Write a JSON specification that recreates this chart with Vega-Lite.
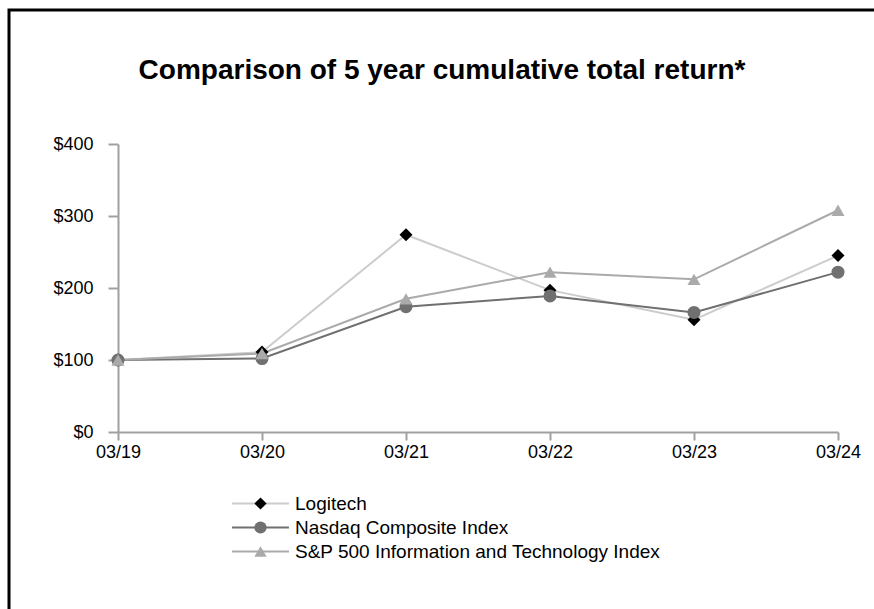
{
  "$schema": "https://vega.github.io/schema/vega-lite/v6.json",
  "width": 870,
  "height": 605,
  "autosize": {"type": "none"},
  "padding": {"left": 9, "top": 10, "right": -5, "bottom": -6},
  "background": "white",
  "config": {
    "view": {"stroke": "#000000", "strokeWidth": 3},
    "font": "Liberation Sans"
  },
  "title": {
    "text": "Comparison of 5 year cumulative total return*",
    "anchor": "middle",
    "frame": "group",
    "orient": "top",
    "offset": 0,
    "dy": 75,
    "dx": -2,
    "font": "Liberation Sans",
    "fontSize": 28,
    "fontWeight": "bold",
    "color": "#000000"
  },
  "data": {
    "values": [
      {"date": "03/19", "series": "Logitech", "value": 100},
      {"date": "03/20", "series": "Logitech", "value": 111},
      {"date": "03/21", "series": "Logitech", "value": 274},
      {"date": "03/22", "series": "Logitech", "value": 197},
      {"date": "03/23", "series": "Logitech", "value": 156},
      {"date": "03/24", "series": "Logitech", "value": 245},
      {"date": "03/19", "series": "Nasdaq Composite Index", "value": 100},
      {"date": "03/20", "series": "Nasdaq Composite Index", "value": 102},
      {"date": "03/21", "series": "Nasdaq Composite Index", "value": 174},
      {"date": "03/22", "series": "Nasdaq Composite Index", "value": 189},
      {"date": "03/23", "series": "Nasdaq Composite Index", "value": 166},
      {"date": "03/24", "series": "Nasdaq Composite Index", "value": 222},
      {"date": "03/19", "series": "S&P 500 Information and Technology Index", "value": 100},
      {"date": "03/20", "series": "S&P 500 Information and Technology Index", "value": 109},
      {"date": "03/21", "series": "S&P 500 Information and Technology Index", "value": 185},
      {"date": "03/22", "series": "S&P 500 Information and Technology Index", "value": 222},
      {"date": "03/23", "series": "S&P 500 Information and Technology Index", "value": 212},
      {"date": "03/24", "series": "S&P 500 Information and Technology Index", "value": 308}
    ]
  },
  "encoding": {
    "x": {
      "field": "date",
      "type": "ordinal",
      "sort": null,
      "scale": {"type": "point", "range": [109, 829], "padding": 0},
      "axis": {
        "orient": "bottom",
        "offset": -183,
        "title": null,
        "labelAngle": 0,
        "grid": false,
        "domainColor": "#a0a0a0",
        "domainWidth": 2,
        "tickColor": "#a0a0a0",
        "tickWidth": 2,
        "tickSize": 8,
        "labelPadding": 3,
        "labelFontSize": 18,
        "labelColor": "#000000",
        "labelFont": "Liberation Sans"
      }
    },
    "y": {
      "field": "value",
      "type": "quantitative",
      "scale": {"domain": [0, 400], "range": [422, 134], "nice": false, "zero": true},
      "axis": {
        "orient": "left",
        "offset": -109,
        "title": null,
        "values": [0, 100, 200, 300, 400],
        "format": "$,.0f",
        "grid": false,
        "domainColor": "#a0a0a0",
        "domainWidth": 2,
        "tickColor": "#a0a0a0",
        "tickWidth": 2,
        "tickSize": 10,
        "labelPadding": 15,
        "labelFontSize": 18,
        "labelColor": "#000000",
        "labelFont": "Liberation Sans"
      }
    }
  },
  "layer": [
    {
      "mark": {"type": "line", "strokeWidth": 2},
      "encoding": {
        "stroke": {
          "field": "series",
          "type": "nominal",
          "scale": {
            "domain": ["Logitech", "Nasdaq Composite Index", "S&P 500 Information and Technology Index"],
            "range": ["#cccccc", "#707070", "#aaaaaa"]
          },
          "legend": {
            "orient": "none",
            "legendX": 242,
            "legendY": 484,
            "title": null,
            "padding": 0,
            "symbolType": "M-4.5,0L4.5,0",
            "symbolSize": 160,
            "symbolStrokeWidth": 2,
            "labelFontSize": 19,
            "labelFont": "Liberation Sans",
            "labelOpacity": 0,
            "labelOffset": 25,
            "rowPadding": 4,
            "labelLimit": 600
          }
        }
      }
    },
    {
      "mark": {"type": "point", "filled": true, "size": 170, "opacity": 1, "strokeWidth": 0},
      "encoding": {
        "fill": {
          "field": "series",
          "type": "nominal",
          "scale": {"range": ["#000000", "#707070", "#aaaaaa"]},
          "legend": {
            "orient": "none",
            "legendX": 242,
            "legendY": 484,
            "title": null,
            "padding": 0,
            "symbolSize": 150,
            "symbolStrokeWidth": 0,
            "labelFontSize": 19,
            "labelFont": "Liberation Sans",
            "labelColor": "#000000",
            "labelOffset": 25,
            "rowPadding": 4,
            "labelLimit": 600
          }
        },
        "shape": {
          "field": "series",
          "type": "nominal",
          "scale": {"range": ["diamond", "circle", "triangle-up"]}
        }
      }
    }
  ]
}
